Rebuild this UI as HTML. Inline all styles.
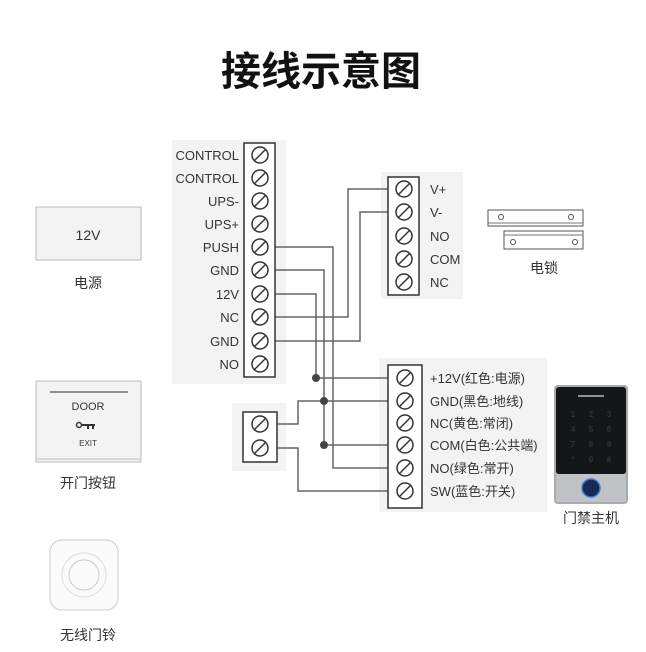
<!DOCTYPE html>
<html><head><meta charset="utf-8"><style>
html,body{margin:0;padding:0;background:#fff;}
svg{display:block;}
text{font-family:"Liberation Sans","Noto Sans CJK SC",sans-serif;fill:#333;}
</style></head><body>
<svg width="646" height="652" viewBox="0 0 646 652" xmlns="http://www.w3.org/2000/svg">
<defs>
<g id="s"><circle r="8" fill="none" stroke="#333" stroke-width="1.5"/><line x1="-5.5" y1="5.5" x2="5.5" y2="-5.5" stroke="#333" stroke-width="1.5"/></g>
</defs>
<text x="321" y="85" text-anchor="middle" font-size="40" font-weight="bold" style="fill:#111;font-family:'Noto Sans CJK SC',sans-serif">接线示意图</text>

<rect x="172" y="140" width="114" height="244" fill="#f3f3f3"/>
<rect x="381" y="172" width="82" height="127" fill="#f3f3f3"/>
<rect x="379" y="358" width="168" height="154" fill="#f3f3f3"/>
<rect x="232" y="403" width="54" height="68" fill="#f3f3f3"/>

<g fill="none" stroke="#666" stroke-width="1.5">
<polyline points="275,247 333,247 333,468 388,468"/>
<polyline points="275,270 324,270 324,445 388,445"/>
<polyline points="275,294 316,294 316,378 388,378"/>
<polyline points="275,317 348,317 348,189 388,189"/>
<polyline points="275,341 360,341 360,212 388,212"/>
<polyline points="277,424 298,424 298,401 388,401"/>
<polyline points="277,448 298,448 298,491 388,491"/>
</g>
<g fill="#444"><circle cx="316" cy="378" r="4"/><circle cx="324" cy="401" r="4"/><circle cx="324" cy="445" r="4"/></g>

<rect x="244" y="143" width="31" height="234" fill="#fff" stroke="#333" stroke-width="1.5"/>
<g font-size="13" text-anchor="end">
<text x="239" y="160">CONTROL</text><text x="239" y="183">CONTROL</text><text x="239" y="206">UPS-</text><text x="239" y="229">UPS+</text><text x="239" y="252">PUSH</text><text x="239" y="275">GND</text><text x="239" y="299">12V</text><text x="239" y="322">NC</text><text x="239" y="346">GND</text><text x="239" y="369">NO</text>
</g>
<use href="#s" x="260" y="155"/><use href="#s" x="260" y="178"/><use href="#s" x="260" y="201"/><use href="#s" x="260" y="224"/><use href="#s" x="260" y="247"/><use href="#s" x="260" y="270"/><use href="#s" x="260" y="294"/><use href="#s" x="260" y="317"/><use href="#s" x="260" y="341"/><use href="#s" x="260" y="364"/>

<rect x="388" y="177" width="31" height="118" fill="#fff" stroke="#333" stroke-width="1.5"/>
<use href="#s" x="404" y="189"/><use href="#s" x="404" y="212"/><use href="#s" x="404" y="236"/><use href="#s" x="404" y="259"/><use href="#s" x="404" y="282"/>
<g font-size="13"><text x="430" y="194">V+</text><text x="430" y="217">V-</text><text x="430" y="241">NO</text><text x="430" y="264">COM</text><text x="430" y="287">NC</text></g>

<rect x="388" y="365" width="34" height="143" fill="#fff" stroke="#333" stroke-width="1.5"/>
<use href="#s" x="405" y="378"/><use href="#s" x="405" y="401"/><use href="#s" x="405" y="423"/><use href="#s" x="405" y="445"/><use href="#s" x="405" y="468"/><use href="#s" x="405" y="491"/>
<g font-size="13"><text x="430" y="383">+12V(红色:电源)</text><text x="430" y="406">GND(黑色:地线)</text><text x="430" y="428">NC(黄色:常闭)</text><text x="430" y="450">COM(白色:公共端)</text><text x="430" y="473">NO(绿色:常开)</text><text x="430" y="496">SW(蓝色:开关)</text></g>

<rect x="243" y="412" width="34" height="50" fill="#fff" stroke="#333" stroke-width="1.5"/>
<use href="#s" x="260" y="424"/><use href="#s" x="260" y="448"/>

<rect x="36" y="207" width="105" height="53" fill="#f3f3f3" stroke="#bbb"/>
<text x="88" y="240" font-size="14" text-anchor="middle">12V</text>
<text x="88" y="288" font-size="14" text-anchor="middle">电源</text>

<rect x="36" y="381" width="105" height="81" fill="#f3f3f3" stroke="#bbb"/>
<line x1="36" y1="459" x2="141" y2="459" stroke="#bbb"/>
<line x1="50" y1="392" x2="128" y2="392" stroke="#555" stroke-width="1.2"/>
<text x="88" y="410" font-size="11" text-anchor="middle">DOOR</text>
<circle cx="79" cy="425" r="2.5" fill="none" stroke="#333" stroke-width="1.5"/><rect x="81" y="424" width="14" height="2" fill="#333"/><rect x="87" y="424" width="2" height="5" fill="#333"/><rect x="92" y="424" width="2" height="5" fill="#333"/>
<text x="88" y="446" font-size="8" text-anchor="middle">EXIT</text>
<text x="88" y="488" font-size="14" text-anchor="middle">开门按钮</text>

<rect x="50" y="540" width="68" height="70" rx="12" fill="#fbfbfb" stroke="#ccc"/>
<circle cx="84" cy="575" r="22" fill="none" stroke="#ddd"/><circle cx="84" cy="575" r="15" fill="none" stroke="#ccc"/>
<text x="88" y="640" font-size="14" text-anchor="middle">无线门铃</text>

<rect x="488" y="210" width="95" height="16" fill="#fff" stroke="#555"/>
<line x1="488" y1="223" x2="583" y2="223" stroke="#777"/>
<circle cx="501" cy="217" r="2.5" fill="none" stroke="#555"/><circle cx="571" cy="217" r="2.5" fill="none" stroke="#555"/>
<rect x="504" y="231" width="79" height="18" fill="#fff" stroke="#555"/>
<line x1="504" y1="235" x2="583" y2="235" stroke="#777"/>
<circle cx="513" cy="242" r="2.5" fill="none" stroke="#555"/><circle cx="575" cy="242" r="2.5" fill="none" stroke="#555"/>
<text x="544" y="273" font-size="14" text-anchor="middle">电锁</text>

<rect x="554" y="385" width="74" height="119" rx="4" fill="#a8acb0"/>
<rect x="556" y="387" width="70" height="87" rx="3" fill="#151618"/>
<line x1="578" y1="396" x2="604" y2="396" stroke="#bbb" stroke-width="1.5"/>
<g font-size="8" font-weight="bold" text-anchor="middle" style="fill:#eee"><text x="573" y="417">1</text><text x="591" y="417">2</text><text x="609" y="417">3</text><text x="573" y="432">4</text><text x="591" y="432">5</text><text x="609" y="432">6</text><text x="573" y="447">7</text><text x="591" y="447">8</text><text x="609" y="447">9</text><text x="573" y="462">*</text><text x="591" y="462">0</text><text x="609" y="462">#</text></g>
<rect x="556" y="474" width="70" height="28" fill="#bfc3c6"/>
<circle cx="591" cy="488" r="9" fill="#1a2a55" stroke="#3a7ad8" stroke-width="1.5"/>
<text x="591" y="523" font-size="14" text-anchor="middle">门禁主机</text>
</svg>
</body></html>
